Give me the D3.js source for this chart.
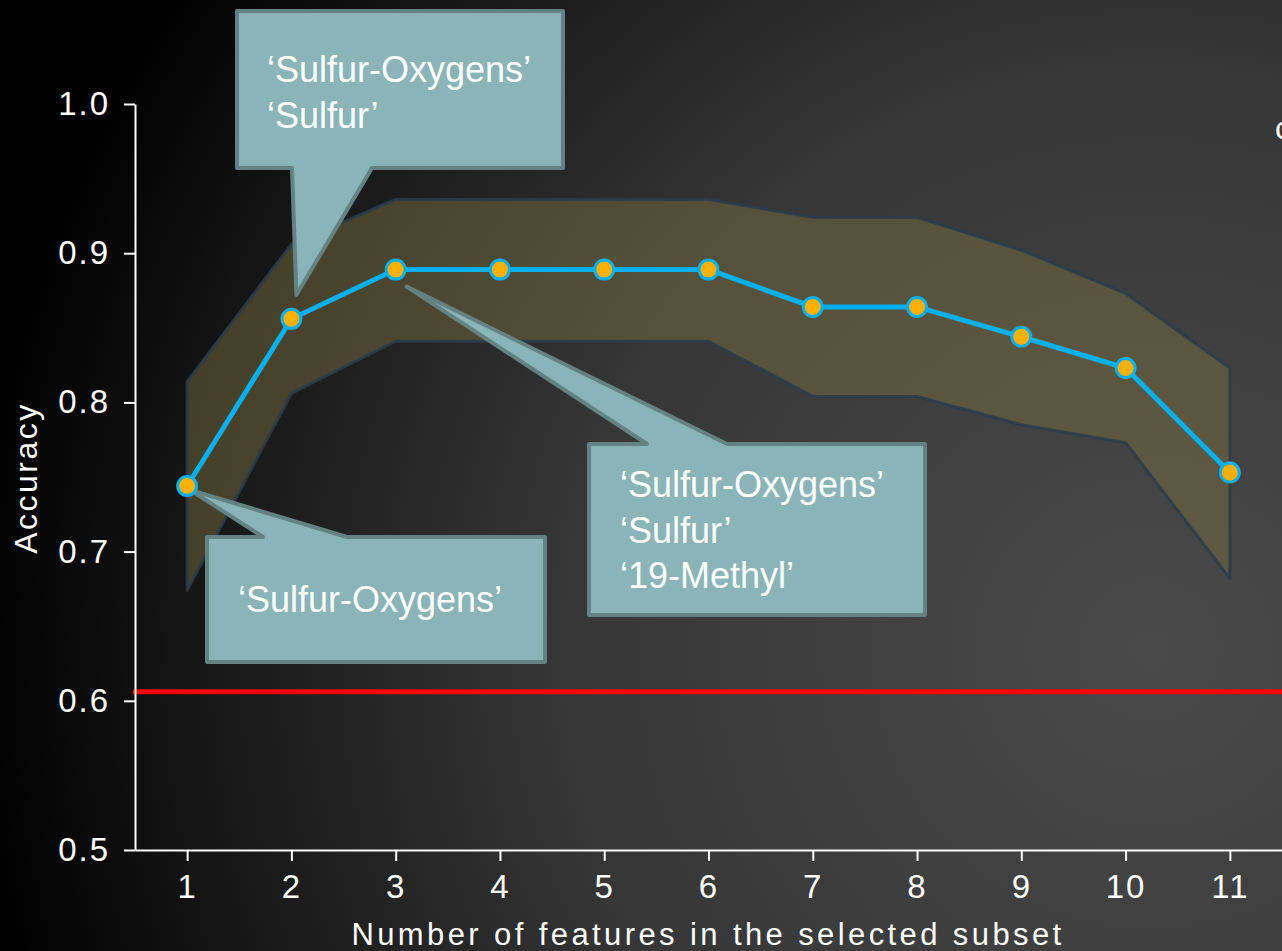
<!DOCTYPE html>
<html>
<head>
<meta charset="utf-8">
<script src="https://cdn.jsdelivr.net/npm/d3@7"></script>
<style>
  html, body { margin: 0; padding: 0; background: #000; overflow: hidden; }
  svg { display: block; font-family: "Liberation Sans", Arial, sans-serif; }
</style>
</head>
<body>
<div id="chart"></div>
<script>
// Number of features in the subset
const featureCounts = [1, 2, 3, 4, 5, 6, 7, 8, 9, 10, 11];
// Mean accuracy and the band around it
const meanAcc  = [0.744, 0.856, 0.889, 0.889, 0.889, 0.889, 0.864, 0.864, 0.844, 0.823, 0.753];
const upperAcc = [0.814, 0.906, 0.936, 0.936, 0.936, 0.936, 0.924, 0.924, 0.902, 0.873, 0.823];
const lowerAcc = [0.674, 0.806, 0.841, 0.841, 0.841, 0.841, 0.804, 0.804, 0.785, 0.773, 0.682];
// Chance level (red line)
const chanceLevel = 0.606;
const yTicks = [0.5, 0.6, 0.7, 0.8, 0.9, 1.0];

const W = 1282, H = 951;
const margin = { top: 104, right: 0, bottom: 101, left: 135 };

const svg = d3.select("#chart")
    .append("svg")
    .attr("width", W)
    .attr("height", H);

// Background: dark radial gradient, lighter towards the right
const defs = svg.append("defs");
const grad = defs.append("radialGradient")
    .attr("id", "bg")
    .attr("gradientUnits", "userSpaceOnUse")
    .attr("cx", 1150).attr("cy", 650).attr("r", 1180);
grad.append("stop").attr("offset", 0).attr("stop-color", "#4a4a4a");
grad.append("stop").attr("offset", 0.5).attr("stop-color", "#363636");
grad.append("stop").attr("offset", 0.82).attr("stop-color", "#151515");
grad.append("stop").attr("offset", 1).attr("stop-color", "#000");
svg.append("rect").attr("width", W).attr("height", H).attr("fill", "url(#bg)");

const x = d3.scaleLinear()
    .domain([0.5, 11.5])
    .range([margin.left, W - margin.right]);
const y = d3.scaleLinear()
    .domain([0.5, 1.0])
    .range([H - margin.bottom, margin.top]);

// Band between lower and upper accuracy
const band = d3.area()
    .x((d, i) => x(featureCounts[i]))
    .y0((d, i) => y(lowerAcc[i]))
    .y1((d, i) => y(upperAcc[i]));
svg.append("path")
    .datum(meanAcc)
    .attr("d", band)
    .attr("fill", "#736b40")
    .attr("fill-opacity", 0.5)
    .attr("stroke", "#2b3c4c")
    .attr("stroke-opacity", 0.85)
    .attr("stroke-width", 3)
    .attr("stroke-linejoin", "round");

// Chance line
svg.append("line")
    .attr("x1", x(0.5) - 2).attr("x2", W)
    .attr("y1", y(chanceLevel)).attr("y2", y(chanceLevel))
    .attr("stroke", "#ff0000")
    .attr("stroke-width", 5);

// Axes
const yAxis = svg.append("g")
    .attr("transform", `translate(${margin.left},0)`)
    .call(d3.axisLeft(y).tickValues(yTicks).tickSize(11).tickSizeOuter(0)
        .tickPadding(14).tickFormat(d3.format(".1f")));
const xAxis = svg.append("g")
    .attr("transform", `translate(0,${H - margin.bottom})`)
    .call(d3.axisBottom(x).tickValues(featureCounts).tickSize(11).tickSizeOuter(0)
        .tickPadding(14));
[xAxis, yAxis].forEach(g => {
    g.selectAll("path, line").attr("stroke", "#fff").attr("stroke-width", 2);
    g.selectAll("text")
        .attr("fill", "#fff")
        .style("font-size", "33px")
        .style("letter-spacing", "2px")
        .style("font-family", "'Liberation Sans', Arial, sans-serif");
});

// Axis titles
svg.append("text")
    .attr("x", 708).attr("y", 945)
    .attr("text-anchor", "middle")
    .attr("fill", "#fff")
    .style("font-size", "31px")
    .style("letter-spacing", "3.4px")
    .text("Number of features in the selected subset");
svg.append("text")
    .attr("transform", "translate(37,478) rotate(-90)")
    .attr("text-anchor", "middle")
    .attr("fill", "#fff")
    .style("font-size", "32px")
    .style("letter-spacing", "2.5px")
    .text("Accuracy");

// Partially visible label at the right edge
svg.append("text")
    .attr("x", 1275).attr("y", 139)
    .attr("fill", "#fff")
    .style("font-size", "32px")
    .text("c");

// Callouts (box + pointer tail)
const callouts = [
    { box: [237, 11, 563, 168], tail: [292, 372], side: "bottom",
      tip: [x(2) + 5, y(meanAcc[1]) - 24], textX: 267, lines: [82, 128],
      text: ["\u2018Sulfur-Oxygens\u2019", "\u2018Sulfur\u2019"] },
    { box: [589, 444, 925, 615], tail: [647, 727], side: "top",
      tip: [x(3) + 11, y(meanAcc[2]) + 17], textX: 620, lines: [497, 543, 588],
      text: ["\u2018Sulfur-Oxygens\u2019", "\u2018Sulfur\u2019", "\u201819-Methyl\u2019"] },
    { box: [207, 537, 545, 662], tail: [263, 347], side: "top",
      tip: [x(1) + 3, y(meanAcc[0]) + 4], textX: 238, lines: [612],
      text: ["\u2018Sulfur-Oxygens\u2019"] }
];

callouts.forEach(c => {
    const [x0, y0, x1, y1] = c.box;
    const [tL, tR] = c.tail;
    let pts;
    if (c.side === "bottom") {
        pts = [[x0, y0], [x1, y0], [x1, y1], [tR, y1], c.tip, [tL, y1], [x0, y1]];
    } else {
        pts = [[x0, y0], [tL, y0], c.tip, [tR, y0], [x1, y0], [x1, y1], [x0, y1]];
    }
    svg.append("path")
        .attr("d", "M" + pts.map(p => p.join(",")).join("L") + "Z")
        .attr("fill", "#8ab4b8")
        .attr("stroke", "#648283")
        .attr("stroke-width", 4)
        .attr("stroke-linejoin", "round");
    c.text.forEach((t, i) => {
        svg.append("text")
            .attr("x", c.textX).attr("y", c.lines[i])
            .attr("fill", "#fff")
            .style("font-size", "36px")
            .text(t);
    });
});

// Mean accuracy line and points
const line = d3.line()
    .x((d, i) => x(featureCounts[i]))
    .y(d => y(d));
svg.append("path")
    .datum(meanAcc)
    .attr("d", line)
    .attr("fill", "none")
    .attr("stroke", "#00b0f0")
    .attr("stroke-width", 5);

svg.selectAll("circle.pt")
    .data(meanAcc)
    .enter()
    .append("circle")
    .attr("class", "pt")
    .attr("cx", (d, i) => x(featureCounts[i]))
    .attr("cy", d => y(d))
    .attr("r", 9.5)
    .attr("fill", "#ffb000")
    .attr("stroke", "#00b0f0")
    .attr("stroke-width", 3);
</script>
</body>
</html>
